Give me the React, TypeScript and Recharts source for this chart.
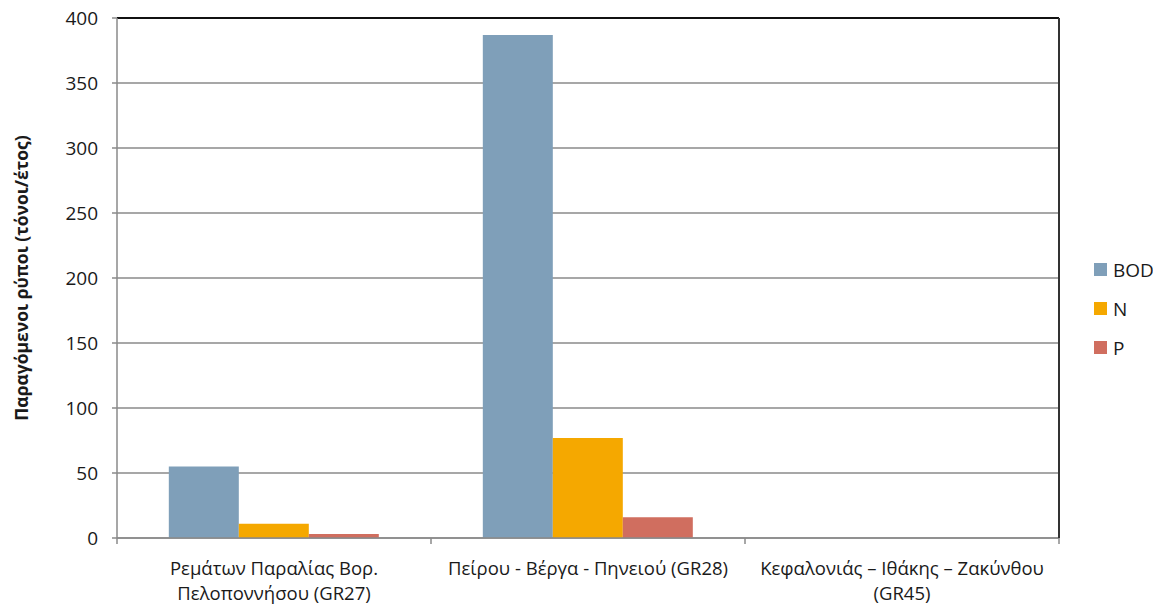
import { BarChart, Bar, XAxis, YAxis, CartesianGrid } from "recharts";

const categoryLines = [
  ["Ρεμάτων Παραλίας Βορ.", "Πελοποννήσου (GR27)"],
  ["Πείρου - Βέργα - Πηνειού (GR28)"],
  ["Κεφαλονιάς – Ιθάκης – Ζακύνθου", "(GR45)"],
];
const bodValues = [55, 387, 0];
const nValues = [11, 77, 0];
const pValues = [3, 16, 0];
const yTicks = [0, 50, 100, 150, 200, 250, 300, 350, 400];

const SERIES = [
  { key: "BOD", color: "#7f9fb9" },
  { key: "N", color: "#f5a800" },
  { key: "P", color: "#d06e5f" },
];

const FONT = "'Open Sans', 'DejaVu Sans', sans-serif";
const AXIS_GREY = "#8a8a8a";
const TEXT = "#1a1a1a";

const data = categoryLines.map((lines, i) => ({
  name: lines.join(" "),
  BOD: bodValues[i],
  N: nValues[i],
  P: pValues[i],
}));

// category label split over lines, plus Excel-style ticks between categories
function CategoryTick(props: any) {
  const { x, y, index, width } = props;
  const half = (width ?? 942) / categoryLines.length / 2;
  const lines = categoryLines[index] ?? [];
  const isLast = index === categoryLines.length - 1;
  return (
    <g>
      <line x1={x - half} x2={x - half} y1={y - 8} y2={y - 2} stroke={AXIS_GREY} strokeWidth={1.5} />
      {isLast && (
        <line x1={x + half} x2={x + half} y1={y - 8} y2={y - 2} stroke={AXIS_GREY} strokeWidth={1.5} />
      )}
      {lines.map((line: string, i: number) => (
        <text
          key={i}
          x={x}
          y={y + 29 + i * 25}
          textAnchor="middle"
          fontSize={18.5}
          fontFamily={FONT}
          fill={TEXT}
        >
          {line}
        </text>
      ))}
    </g>
  );
}

function YTitle(props: any) {
  const { viewBox } = props;
  const cy = viewBox.y + viewBox.height / 2;
  return (
    <text
      x={28}
      y={cy}
      transform={`rotate(-90, 28, ${cy})`}
      textAnchor="middle"
      fontSize={17.5}
      fontWeight="bold"
      fontFamily={FONT}
      fill={TEXT}
    >
      Παραγόμενοι ρύποι (τόνοι/έτος)
    </text>
  );
}

export default function App() {
  return (
    <div style={{ position: "absolute", left: 0, top: 0, width: 1153, height: 604, background: "#fff" }}>
      <BarChart
        width={1153}
        height={604}
        data={data}
        margin={{ top: 17, right: 93, bottom: 0, left: 0 }}
        barCategoryGap="16.5%"
        barGap={0}
      >
        <CartesianGrid vertical={false} stroke={AXIS_GREY} strokeWidth={1.3} />
        <XAxis
          dataKey="name"
          height={66}
          stroke={AXIS_GREY}
          strokeWidth={1.5}
          tickLine={false}
          interval={0}
          tick={<CategoryTick />}
        />
        <XAxis
          xAxisId="top"
          dataKey="name"
          orientation="top"
          height={1}
          tick={false}
          tickLine={false}
          axisLine={{ stroke: "#111", strokeWidth: 2 }}
        />
        <YAxis
          width={117}
          domain={[0, 400]}
          ticks={yTicks}
          interval={0}
          stroke={AXIS_GREY}
          strokeWidth={1.5}
          tickSize={5}
          tickMargin={14}
          tick={{ fill: TEXT, fontSize: 19, fontFamily: FONT }}
          label={<YTitle />}
        />
        <YAxis
          yAxisId="right"
          orientation="right"
          width={1}
          domain={[0, 400]}
          tick={false}
          tickLine={false}
          axisLine={{ stroke: "#333", strokeWidth: 2 }}
        />
        {SERIES.map((s) => (
          <Bar key={s.key} dataKey={s.key} fill={s.color} isAnimationActive={false} />
        ))}
      </BarChart>
      <div style={{ position: "absolute", left: 1094, top: 250, fontFamily: FONT, fontSize: 19, color: TEXT }}>
        {SERIES.map((s) => (
          <div key={s.key} style={{ display: "flex", alignItems: "center", height: 39 }}>
            <span style={{ width: 13, height: 13, background: s.color, marginRight: 6, display: "inline-block" }} />
            {s.key}
          </div>
        ))}
      </div>
    </div>
  );
}
